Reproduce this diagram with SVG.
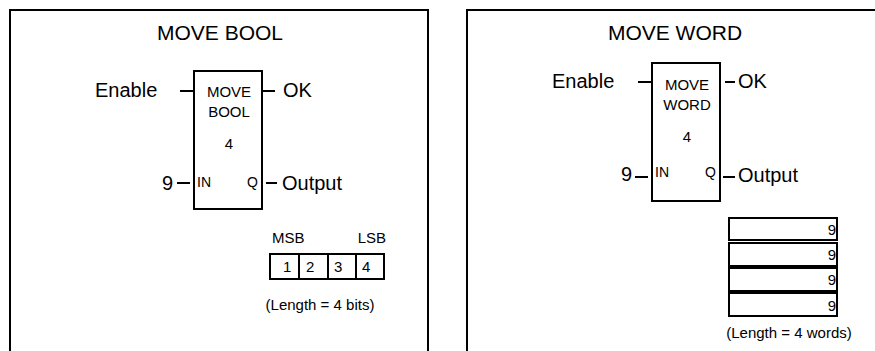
<svg xmlns="http://www.w3.org/2000/svg" width="875" height="351" viewBox="0 0 875 351">
<style>
  .frame { fill: none; stroke: #000; stroke-width: 2; }
  .box { fill: #fff; stroke: #000; stroke-width: 2; }
  .wire { stroke: #000; stroke-width: 2; fill: none; }
  text { font-family: "Liberation Sans", Arial, sans-serif; fill: #000; }
  .title { font-size: 21px; text-anchor: middle; }
  .big { font-size: 20px; }
  .blk { font-size: 15px; text-anchor: middle; }
  .pin { font-size: 14px; }
  .small { font-size: 15px; }
  .cell { font-size: 15px; }
</style>
<rect width="875" height="351" fill="#fff"/>

<g id="panel-move-bool">
  <path class="frame" d="M10 352 V10 H428 V352"/>
  <text class="title" x="220" y="40">MOVE BOOL</text>
</g>

<g id="panel-move-word">
  <path class="frame" d="M467 352 V10 H877"/>
  <text class="title" x="675" y="40">MOVE WORD</text>
</g>

<g id="block-move-bool">
  <rect class="box" x="194" y="71" width="68" height="138"/>
  <text class="blk" x="229" y="97">MOVE</text>
  <text class="blk" x="229" y="117">BOOL</text>
  <text class="blk" x="229" y="149">4</text>
  <text class="pin" x="197" y="187">IN</text>
  <text class="pin" x="258" y="187" text-anchor="end">Q</text>
</g>

<g id="labels-move-bool">
  <text class="big" x="95" y="97">Enable</text>
  <text class="big" x="283" y="97">OK</text>
  <text class="big" x="162" y="190">9</text>
  <text class="big" x="282" y="190">Output</text>
</g>

<g id="register-bits">
  <text class="small" x="272" y="243">MSB</text>
  <text class="small" x="386" y="243" text-anchor="end">LSB</text>
  <rect class="box" x="270" y="254" width="114" height="25"/>
  <line class="wire" x1="299" y1="254" x2="299" y2="279"/>
  <line class="wire" x1="328" y1="254" x2="328" y2="279"/>
  <line class="wire" x1="356" y1="254" x2="356" y2="279"/>
  <text class="cell" x="283" y="272">1</text>
  <text class="cell" x="306" y="272">2</text>
  <text class="cell" x="334" y="272">3</text>
  <text class="cell" x="362" y="272">4</text>
  <text class="small" x="320" y="310" text-anchor="middle">(Length = 4 bits)</text>
</g>

<g id="block-move-word">
  <rect class="box" x="652" y="63" width="68" height="138"/>
  <text class="blk" x="687" y="90">MOVE</text>
  <text class="blk" x="687" y="110">WORD</text>
  <text class="blk" x="687" y="142">4</text>
  <text class="pin" x="655" y="177">IN</text>
  <text class="pin" x="716" y="177" text-anchor="end">Q</text>
</g>

<g id="labels-move-word">
  <text class="big" x="552" y="88">Enable</text>
  <text class="big" x="738" y="88">OK</text>
  <text class="big" x="621" y="181">9</text>
  <text class="big" x="738" y="182">Output</text>
</g>

<g id="register-words">
  <rect class="box" x="729" y="218" width="108" height="22"/>
  <rect class="box" x="729" y="243" width="108" height="23"/>
  <rect class="box" x="729" y="268" width="108" height="23"/>
  <rect class="box" x="729" y="293" width="108" height="23"/>
  <text class="cell" x="836" y="235" text-anchor="end">9</text>
  <text class="cell" x="836" y="260" text-anchor="end">9</text>
  <text class="cell" x="836" y="285" text-anchor="end">9</text>
  <text class="cell" x="836" y="311" text-anchor="end">9</text>
  <text class="small" x="789" y="338" text-anchor="middle">(Length = 4 words)</text>
</g>

<g id="connectors">
  <line class="wire" x1="180" y1="91" x2="194" y2="91"/>
  <line class="wire" x1="263" y1="91" x2="275" y2="91"/>
  <line class="wire" x1="177" y1="183" x2="190" y2="183"/>
  <line class="wire" x1="266" y1="183" x2="277" y2="183"/>
  <line class="wire" x1="638" y1="82" x2="652" y2="82"/>
  <line class="wire" x1="725" y1="82" x2="735" y2="82"/>
  <line class="wire" x1="635" y1="177" x2="648" y2="177"/>
  <line class="wire" x1="723" y1="177" x2="735" y2="177"/>
</g>
</svg>
